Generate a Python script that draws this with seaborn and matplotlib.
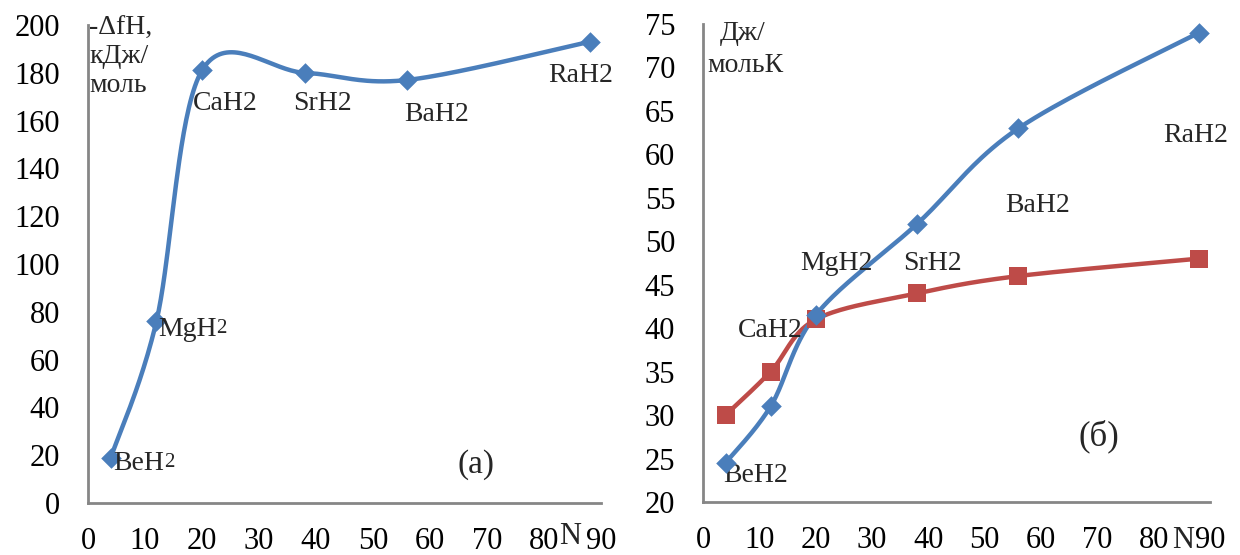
import numpy as np
import pandas as pd
import matplotlib
matplotlib.use("Agg")
import matplotlib.pyplot as plt
import seaborn as sns

# ---------------- data ----------------
n_atomic = [4, 12, 20, 38, 56, 88]
compounds = ["BeH2", "MgH2", "CaH2", "SrH2", "BaH2", "RaH2"]
enthalpy = [19, 76, 181, 180, 177, 193]          # -ΔfH, кДж/моль
entropy_blue = [24.5, 31, 41.5, 52, 63, 74]       # Дж/мольК
entropy_red = [30, 35, 41, 44, 46, 48]
x_ticks = list(range(0, 91, 10))
left_yticks = list(range(0, 201, 20))
right_yticks = list(range(20, 76, 5))

# label positions (data coords: left x, baseline y)
left_label_pos = {"CaH2": (18.4, 164.5), "SrH2": (36.0, 164.5), "BaH2": (55.4, 160.0),
                  "RaH2": (80.7, 176.0), "MgH": (12.3, 70.0), "BeH": (4.4, 13.8)}
right_label_pos = {"RaH2": (81.7, 61.4), "BaH2": (53.6, 53.4), "MgH2": (17.2, 46.7),
                   "SrH2": (35.5, 46.7), "CaH2": (6.2, 39.0), "BeH2": (3.6, 22.3)}

BLUE = "#4A7EBB"
RED = "#BE4B48"
GRAY = "#868686"

sns.set_theme(style="white")
plt.rcParams["font.family"] = ["Liberation Serif", "DejaVu Serif"]


def smooth(x, y, steps=40):
    """Excel-style smoothed line (Catmull-Rom Bezier through the points)."""
    P = np.column_stack([x, y]).astype(float)
    E = np.vstack([P[0], P, P[-1]])
    out = []
    for i in range(len(P) - 1):
        p0, p1, p2, p3 = E[i], E[i + 1], E[i + 2], E[i + 3]
        c1 = p1 + (p2 - p0) / 6
        c2 = p2 - (p3 - p1) / 6
        t = np.linspace(0, 1, steps)[:, None]
        seg = (1 - t) ** 3 * p1 + 3 * (1 - t) ** 2 * t * c1 + 3 * (1 - t) * t ** 2 * c2 + t ** 3 * p2
        out.append(seg if i == 0 else seg[1:])
    return np.vstack(out)


def style_axes(ax, yticks):
    for s in ["top", "right"]:
        ax.spines[s].set_visible(False)
    for s in ["left", "bottom"]:
        ax.spines[s].set_color(GRAY)
        ax.spines[s].set_linewidth(2.0)
    ax.set_xlim(0, 90)
    ax.set_ylim(yticks[0], yticks[-1])
    ax.set_xticks(x_ticks)
    ax.set_yticks(yticks)
    ax.set_xticklabels([str(v) for v in x_ticks])
    ax.set_yticklabels([str(v) for v in yticks])
    ax.tick_params(axis="both", direction="in", length=6, width=2.0, color=GRAY,
                   labelsize=22, labelcolor="black")
    ax.tick_params(axis="x", pad=17)
    ax.tick_params(axis="y", pad=20)
    ax.set_xlabel("")
    ax.set_ylabel("")
    ax.grid(False)
    ax.set_facecolor("white")


fig = plt.figure(figsize=(12.4, 5.55), dpi=100)
axL = fig.add_axes([0.07097, 0.09369, 0.41371, 0.86126])
axR = fig.add_axes([0.56694, 0.09550, 0.40887, 0.86126])

# ---------------- left panel ----------------
cL = smooth(n_atomic, enthalpy)
sns.lineplot(x=cL[:, 0], y=cL[:, 1], sort=False, estimator=None, color=BLUE,
             linewidth=3.2, ax=axL)
sns.scatterplot(x=n_atomic, y=enthalpy, marker="D", s=110, color=BLUE,
                linewidth=0, ax=axL, zorder=3, clip_on=False)
style_axes(axL, left_yticks)

FS = 20
for name in ["CaH2", "SrH2", "BaH2", "RaH2"]:
    x, y = left_label_pos[name]
    axL.text(x, y, name, fontsize=FS, ha="left", va="baseline")
for name in ["MgH", "BeH"]:
    x, y = left_label_pos[name]
    t = axL.text(x, y, name, fontsize=FS, ha="left", va="baseline")
    axL.annotate("2", xy=(1, 0), xycoords=t, fontsize=15, ha="left", va="bottom",
                 xytext=(0, 3), textcoords="offset points")
axL.text(0.2, 204, "-ΔfH,\nкДж/\nмоль", fontsize=FS, ha="left", va="top",
         linespacing=1.2)
axL.text(64.9, 16, "(a)", fontsize=24, ha="left", va="center")
axL.text(84.5, -8.0, "N", fontsize=22, ha="center", va="top", clip_on=False)

# ---------------- right panel ----------------
cB = smooth(n_atomic, entropy_blue)
cR = smooth(n_atomic, entropy_red)
sns.lineplot(x=cR[:, 0], y=cR[:, 1], sort=False, estimator=None, color=RED,
             linewidth=3.2, ax=axR)
sns.lineplot(x=cB[:, 0], y=cB[:, 1], sort=False, estimator=None, color=BLUE,
             linewidth=3.2, ax=axR)
sns.scatterplot(x=n_atomic, y=entropy_red, marker="s", s=180, color=RED,
                linewidth=0, ax=axR, zorder=3, clip_on=False)
sns.scatterplot(x=n_atomic, y=entropy_blue, marker="D", s=110, color=BLUE,
                linewidth=0, ax=axR, zorder=4, clip_on=False)
style_axes(axR, right_yticks)

for name in ["RaH2", "BaH2", "MgH2", "SrH2", "CaH2", "BeH2"]:
    x, y = right_label_pos[name]
    axR.text(x, y, name, fontsize=FS, ha="left", va="baseline")
axR.text(3.0, 73.2, "Дж/", fontsize=FS, ha="left", va="baseline")
axR.text(0.7, 69.5, "мольК", fontsize=FS, ha="left", va="baseline")
axR.text(66.6, 27.5, "(б)", fontsize=25, ha="left", va="center")
axR.text(85.2, 17.2, "N", fontsize=22, ha="center", va="top", clip_on=False)

fig.savefig("out.png", dpi=100, facecolor="white")
